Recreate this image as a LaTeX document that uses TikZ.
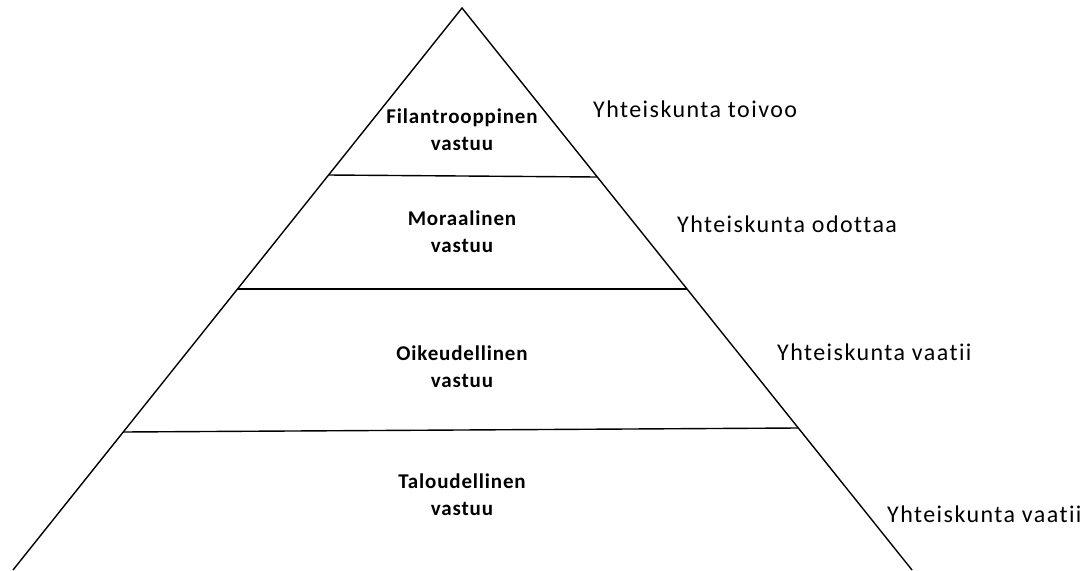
\documentclass[tikz,border=0pt]{standalone}
\usepackage{fontspec}
\setmainfont{Carlito}
\newfontfamily\pyrfont[LetterSpace=4,Ligatures=NoCommon]{Carlito}
\newfontfamily\sidefont[LetterSpace=6,Ligatures=NoCommon]{Carlito}
\usetikzlibrary{calc}

\begin{document}
\begin{tikzpicture}[x=1pt,y=-1pt,
    layer/.style={font=\pyrfont\bfseries\fontsize{21}{27}\selectfont,
      align=center,anchor=base,inner sep=0pt},
    demand/.style={font=\sidefont\fontsize{24}{28}\selectfont,
      anchor=base west,inner sep=0pt}]
    \useasboundingbox (0,0) rectangle (1089,570);
    % pyramid outline
    \coordinate (top) at (462,8);
    \coordinate (botl) at (13,570);
    \coordinate (botr) at (912,570);
    \draw[line width=1.4pt] (botl) -- (top) -- (botr);
    % borders between the layers
    \draw[line width=1.4pt] (328,175) -- (597,177);
    \draw[line width=1.4pt] (237,289) -- (687,289);
    \draw[line width=1.4pt] (123,432) -- (798,428);
    % layers
    \node[layer] (filan) at (462,150) {Filantrooppinen\\vastuu};
    \node[layer] (moral) at (462,252) {Moraalinen\\vastuu};
    \node[layer] (oikeu) at (462,387) {Oikeudellinen\\vastuu};
    \node[layer] (talou) at (462,515) {Taloudellinen\\vastuu};
    % what society does
    \node[demand] (toivoo) at (593,117) {Yhteiskunta toivoo};
    \node[demand] (odottaa) at (677,232) {Yhteiskunta odottaa};
    \node[demand] (vaatii1) at (777,360) {Yhteiskunta vaatii};
    \node[demand] (vaatii2) at (887,522) {Yhteiskunta vaatii};
  \end{tikzpicture}
\end{document}
